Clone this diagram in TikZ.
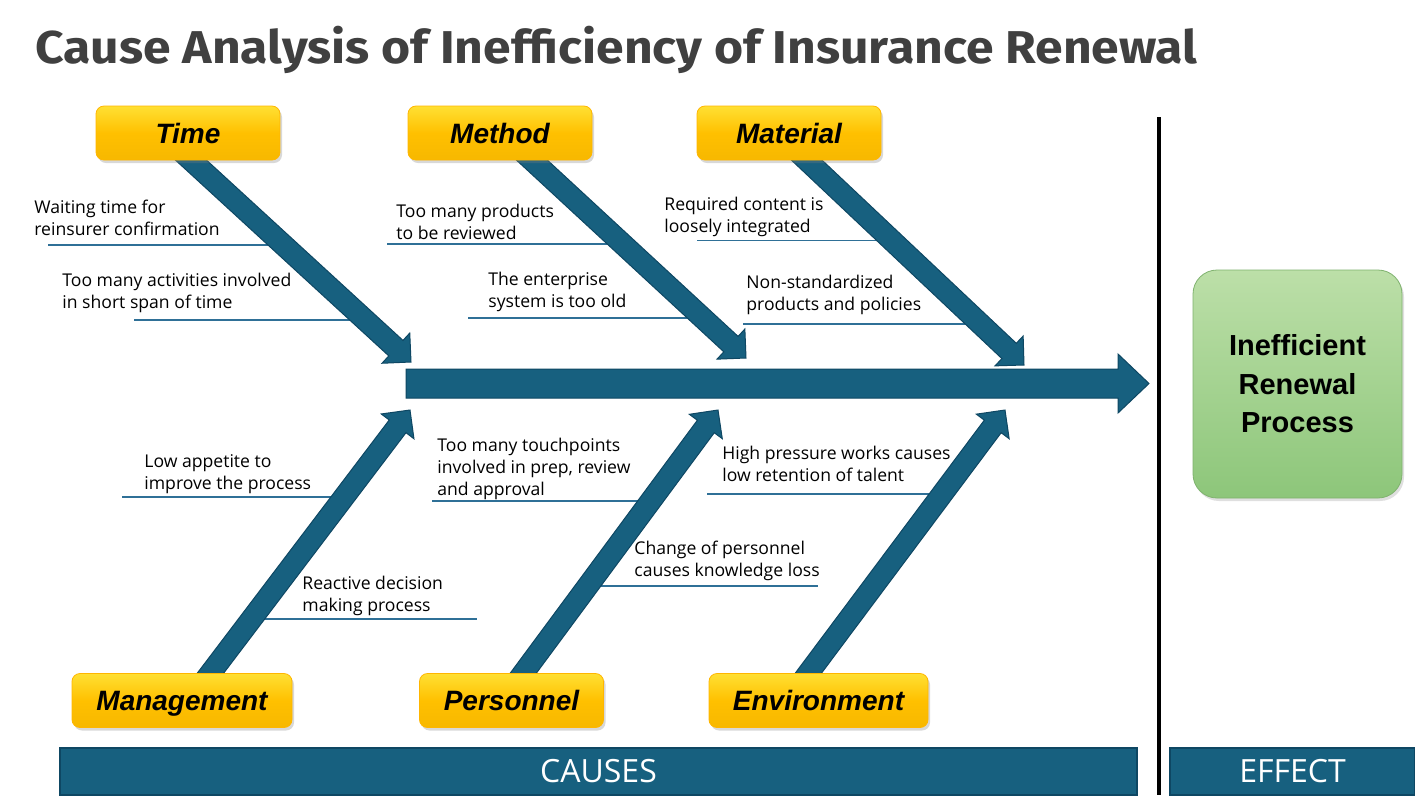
\documentclass[tikz,border=0pt]{standalone}
\usepackage{fontspec}
\setmainfont{Open Sans}
\newfontfamily\titlefont{Fira Sans}
\newfontfamily\boxfont{Liberation Sans}
\usetikzlibrary{calc,shadows}
\pgfdeclarelayer{background}
\pgfsetlayers{background,main}
\definecolor{bonecol}{HTML}{17607F}
\definecolor{boneline}{HTML}{0E4763}
\definecolor{branchcol}{HTML}{2F7097}
\definecolor{titlecol}{HTML}{404040}
\definecolor{yellowtop}{HTML}{FFE033}
\definecolor{yellowmid}{HTML}{FFC000}
\definecolor{yellowbot}{HTML}{F7B800}
\definecolor{greentop}{HTML}{BCDFA8}
\definecolor{greenbot}{HTML}{8DC67A}
% block arrow: [style](from)(tip)(shaft half width:head half width:head length)
\def\blockarrow[#1](#2)(#3)(#4:#5:#6){\coordinate (hb) at ($(#3)!#6!(#2)$);
	\filldraw[#1] ($(#2)!#4!90:(#3)$) -- ($(hb)!#4!90:(#3)$) -- ($(hb)!#5!90:(#3)$) -- (#3) -- ($(hb)!#5!-90:(#3)$) -- ($(hb)!#4!-90:(#3)$) -- ($(#2)!#4!-90:(#3)$) -- cycle;}

\tikzset{
	bone/.style={fill=bonecol, draw=boneline, line width=0.5pt},
	branch/.style={draw=branchcol, line width=0.9pt},
	causetext/.style={anchor=base west, inner sep=0pt, align=left, font=\fontsize{8.8}{11}\selectfont},
	causebox/.style={rounded corners=4pt, minimum height=27pt, inner sep=0pt, text height=10pt, text depth=0pt, top color=yellowtop, bottom color=yellowbot, middle color=yellowmid, draw=yellowmid!85!orange, line width=0.4pt, drop shadow={opacity=0.3, shadow xshift=1pt, shadow yshift=-1.5pt}, font=\boxfont\bfseries\itshape\fontsize{14}{16}\selectfont},
	effectbox/.style={rounded corners=12pt, minimum width=104.5pt, minimum height=114pt, top color=greentop, bottom color=greenbot, draw=greenbot!90!black, line width=0.4pt, drop shadow={opacity=0.25, shadow xshift=1pt, shadow yshift=-1.5pt}, align=center, font=\boxfont\bfseries\fontsize{14.5}{19.3}\selectfont},
	bar/.style={fill=bonecol, draw=boneline, line width=0.6pt, minimum height=23.5pt, inner sep=0pt, text=white, font=\fontsize{16}{18}\selectfont}
}

\begin{document}
\begin{tikzpicture}[x=0.5pt, y=-0.5pt]
	%%%%% START %%%%%
	\useasboundingbox (0,0) rectangle (1415,811);
	
	\node[anchor=base west, inner sep=0pt, text=titlecol] (title) at (35,63) {\resizebox{581pt}{\height}{\titlefont\bfseries\fontsize{23}{26}\selectfont Cause Analysis of Inefficiency of Insurance Renewal}};
	
	% cause boxes
	\node[causebox, minimum width=92pt] (time) at (188,133) {Time};
	\node[causebox, minimum width=92pt] (method) at (500,133) {Method};
	\node[causebox, minimum width=92pt] (material) at (789,133) {Material};
	\node[causebox, minimum width=110pt] (management) at (182,700.5) {Management};
	\node[causebox, minimum width=92pt] (personnel) at (511.5,700.5) {Personnel};
	\node[causebox, minimum width=109.5pt] (environment) at (818.5,700.5) {Environment};
	
	% bone ends
	\coordinate (t0) at (180,150);  \coordinate (t1) at (411,362);
	\coordinate (me0) at (521,150); \coordinate (me1) at (746,358);
	\coordinate (ma0) at (796,150); \coordinate (ma1) at (1024,365);
	\coordinate (mg0) at (203,683); \coordinate (mg1) at (410,410);
	\coordinate (p0) at (516,683);  \coordinate (p1) at (718,410);
	\coordinate (e0) at (801,683);  \coordinate (e1) at (1005,410);
	\coordinate (spine0) at (406,383.5); \coordinate (spine1) at (1149,383.5);
	
	\begin{pgfonlayer}{background}
		\fill[white] (0,0) rectangle (1415,811);
		% branches
		\draw[branch] (48,245) -- (283,245);
		\draw[branch] (134,320) -- (365,320);
		\draw[branch] (387,244) -- (622,244);
		\draw[branch] (468,318) -- (702,318);
		\draw[branch] (697,240.5) -- (890,240.5);
		\draw[branch] (743,324) -- (978,324);
		\draw[branch] (122,497) -- (345,497);
		\draw[branch] (252,619) -- (477,619);
		\draw[branch] (432,501) -- (650,501);
		\draw[branch] (587,586) -- (818,586);
		\draw[branch] (707,494) -- (940,494);
		
		\blockarrow[bone](t0)(t1)(5.25pt:10.25pt:10.25pt)
		\blockarrow[bone](me0)(me1)(5.25pt:10.25pt:10.25pt)
		\blockarrow[bone](ma0)(ma1)(5.25pt:10.25pt:10.25pt)
		\blockarrow[bone](mg0)(mg1)(5.25pt:10.25pt:10.25pt)
		\blockarrow[bone](p0)(p1)(5.25pt:10.25pt:10.25pt)
		\blockarrow[bone](e0)(e1)(5.25pt:10.25pt:10.25pt)
	\end{pgfonlayer}
	
	\blockarrow[bone](spine0)(spine1)(7.25pt:14.75pt:15.5pt)
	
	% causes (base = last line)
	\node[causetext] (c1) at (34,235) {Waiting time for\\reinsurer confirmation};
	\node[causetext] (c2) at (62,308) {Too many activities involved\\in short span of time};
	\node[causetext] (c3) at (396,239) {Too many products\\to be reviewed};
	\node[causetext] (c4) at (488,307) {The enterprise\\system is too old};
	\node[causetext] (c5) at (664,232) {Required content is\\loosely integrated};
	\node[causetext] (c6) at (746,310) {Non-standardized\\products and policies};
	\node[causetext] (c7) at (144,489) {Low appetite to\\improve the process};
	\node[causetext] (c8) at (302,611) {Reactive decision\\making process};
	\node[causetext] (c9) at (437,495) {Too many touchpoints\\involved in prep, review\\and approval};
	\node[causetext] (c10) at (634,576) {Change of personnel\\causes knowledge loss};
	\node[causetext] (c11) at (722,481) {High pressure works causes\\low retention of talent};
	
	% effect
	\draw[line width=2pt] (1159,117) coordinate (div0) -- (1159,795) coordinate (div1);
	\node[effectbox] (effect) at (1297.5,384) {Inefficient\\Renewal\\Process};
	
	\node[bar, minimum width=538.5pt] (causes) at (598.5,771.5) {CAUSES};
	\node[bar, minimum width=122.5pt] (effectbar) at (1292.5,771.5) {EFFECT};
	%%%%% END %%%%%
\end{tikzpicture}
\end{document}
